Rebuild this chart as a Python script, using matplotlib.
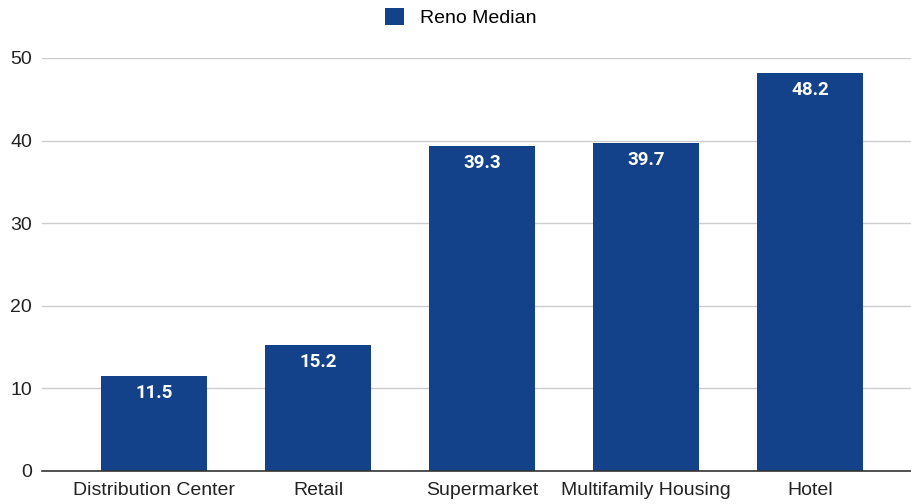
import matplotlib
matplotlib.use('Agg')
import matplotlib.pyplot as plt
import numpy as np

plt.rcParams['font.family'] = ['Liberation Sans', 'DejaVu Sans']

# data
categories = ['Distribution Center', 'Retail', 'Supermarket',
              'Multifamily Housing', 'Hotel']
reno_median = [11.5, 15.2, 39.3, 39.7, 48.2]
y_ticks = [0, 10, 20, 30, 40, 50]

BAR_COLOR = '#13428a'

fig = plt.figure(figsize=(9.12, 5.04), dpi=100)
ax = fig.add_axes([0.046, 0.0655, 0.954, 0.8195])

x = np.arange(len(categories))
bars = ax.bar(x, reno_median, width=0.646, color=BAR_COLOR,
              label='Reno Median', zorder=3)

# value labels inside bars near the top
for b, v in zip(bars, reno_median):
    ax.annotate(f'{v}', (b.get_x() + b.get_width() / 2, v),
                xytext=(0, -17), textcoords='offset pixels',
                ha='center', va='center', color='white',
                fontsize=13.5, fontweight='bold', family='Roboto', zorder=4)

ax.set_xlim(-0.683, 4.62)
ax.set_ylim(0, 50)
ax.set_yticks(y_ticks)
ax.set_xticks(x)
ax.set_xticklabels(categories)
ax.tick_params(axis='both', length=0, labelsize=14, colors='#222222')
ax.tick_params(axis='x', pad=8)
ax.tick_params(axis='y', pad=7)

ax.grid(axis='y', color='#cccccc', linewidth=1, zorder=0)
for side in ['top', 'right', 'left']:
    ax.spines[side].set_visible(False)
ax.spines['bottom'].set_color('#333333')
ax.spines['bottom'].set_linewidth(1.2)
ax.spines['bottom'].set_zorder(5)

fig.legend(handles=[bars], labels=['Reno Median'], loc='center',
           bbox_to_anchor=(0.505, 0.965), frameon=False, fontsize=14,
           handlelength=1.0, handleheight=1.0, handletextpad=0.8)

plt.savefig('out.png', dpi=100)
plt.close()
